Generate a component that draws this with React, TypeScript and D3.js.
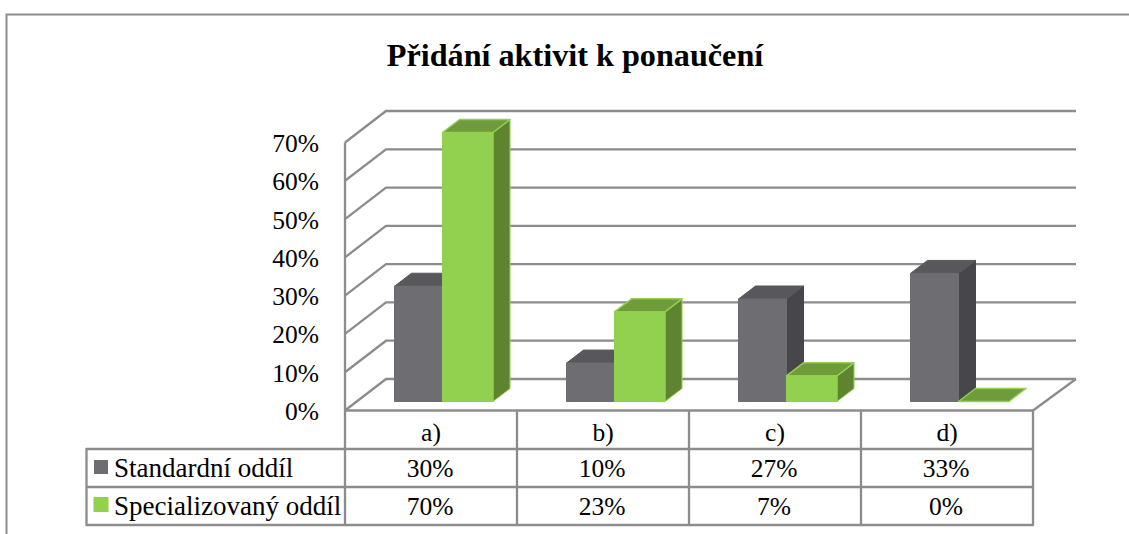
import React from "react";
import * as d3 from "d3";

const title = "Přidání aktivit k ponaučení";
const categories = ["a)", "b)", "c)", "d)"];
const seriesNames = ["Standardní oddíl", "Specializovaný oddíl"];
const standard = [30, 10, 26.67, 33.33];
const specialized = [70, 23.33, 6.67, 0];
const ticks = [0, 10, 20, 30, 40, 50, 60, 70];

const LINE = "#8c8c8c";
const GREY = { front: "#6e6d72", top: "#58575b", side: "#47464a", edge: "#6e6d72" };
const GREEN = { front: "#92d050", top: "#6f9b3c", side: "#5e8430", edge: "#92d050" };
const FONT = "'Liberation Serif', 'Times New Roman', serif";

const W = 1129;
const H = 534;
const DX = 41; // wall depth
const DY = 31.5;
const BDX = 17; // bar depth
const BDY = 13;

const yWall = d3.scaleLinear().domain([0, 70]).range([410.5, 142.5]);
const yBar = d3.scaleLinear().domain([0, 70]).range([401.5, 132.5]);
const xCat = d3.scaleBand<string>().domain(categories).range([345, 1033]);
const barW = 48;
const greenW = 50.5;
const pct = (v: number) => `${Math.round(v)}%`;

function Bar({ x, w, v, c }: { x: number; w: number; v: number; c: typeof GREY }) {
  const y0 = yBar(0);
  const y1 = yBar(v);
  return (
    <g stroke={c.edge} strokeWidth={1} strokeLinejoin="round">
      <path d={`M${x + w},${y1}L${x + w + BDX},${y1 - BDY}V${y0 - BDY}L${x + w},${y0}Z`} fill={c.side} stroke={v === 0 ? "none" : c === GREEN ? c.edge : c.side} />
      <path d={`M${x},${y1}L${x + BDX},${y1 - BDY}H${x + w + BDX}L${x + w},${y1}Z`} fill={c.top} stroke={c === GREEN ? c.edge : c.top} strokeWidth={c === GREEN ? 1.5 : 1} />
      <rect x={x} y={y1} width={w} height={y0 - y1} fill={c.front} />
    </g>
  );
}

export default function App() {
  const tableRows = [449, 487, 525];
  const seriesRows = [standard, specialized];
  const seriesColors = [GREY, GREEN];
  return (
    <svg
      width={W}
      height={H}
      viewBox={`0 0 ${W} ${H}`}
      style={{ position: "absolute", left: 0, top: 0, background: "#fff" }}
    >
      {/* outer frame */}
      <path d={`M6.5,${H}V14.5H${W}`} fill="none" stroke={LINE} strokeWidth={2} />
      <text x={575} y={66} textAnchor="middle" fontFamily={FONT} fontWeight="bold" fontSize={32.2} fill="#000">
        {title}
      </text>

      {/* walls and gridlines */}
      {ticks.map((t) => (
        <path
          key={t}
          d={`M${xCat.range()[0]},${yWall(t)}l${DX},${-DY}H${xCat.range()[1] + DX + 2}`}
          fill="none"
          stroke={LINE}
          strokeWidth={2.3}
        />
      ))}
      <line x1={345} x2={345} y1={yWall(70)} y2={525} stroke={LINE} strokeWidth={2.3} />
      <path d={`M1033,${yWall(0)}l43,${-DY}`} fill="none" stroke={LINE} strokeWidth={2.3} />

      {/* bars */}
      {categories.map((c, i) => {
        const x0 = xCat(c)! + 49.5;
        return (
          <g key={c}>
            <Bar x={x0} w={barW} v={standard[i]} c={GREY} />
            <Bar x={x0 + barW} w={greenW} v={specialized[i]} c={GREEN} />
          </g>
        );
      })}

      {/* y tick labels */}
      {ticks.map((t) => (
        <text key={t} x={319} y={yWall(t) + 9.5} textAnchor="end" fontFamily={FONT} fontSize={25.5} fill="#000">
          {t}%
        </text>
      ))}

      {/* data table */}
      <g stroke={LINE} strokeWidth={2.3} fill="none">
        <line x1={345} x2={1033} y1={yWall(0)} y2={yWall(0)} />
        {tableRows.map((y) => (
          <line key={y} x1={86} x2={1034} y1={y} y2={y} />
        ))}
        <line x1={86.5} x2={86.5} y1={448} y2={526} />
        {categories.map((c) => (
          <line key={c} x1={xCat(c)! + xCat.bandwidth()} x2={xCat(c)! + xCat.bandwidth()} y1={yWall(0)} y2={525} />
        ))}
      </g>
      {categories.map((c, i) => {
        const cx = xCat(c)! + xCat.bandwidth() / 2;
        return (
          <g key={c} fontFamily={FONT} fontSize={25.5} fill="#000" textAnchor="middle">
            <text x={cx} y={441}>{c}</text>
            {seriesRows.map((s, r) => (
              <text key={r} x={cx - 1} y={477 + r * 38}>{pct(s[i])}</text>
            ))}
          </g>
        );
      })}
      {seriesNames.map((n, r) => (
        <g key={n}>
          <rect x={94} y={460 + r * 37.5} width={14} height={14} fill={seriesColors[r].front} stroke={r === 1 ? GREEN.front : "none"} />
          <text x={114} y={477 + r * 38} fontFamily={FONT} fontSize={27} fill="#000">{n}</text>
        </g>
      ))}
    </svg>
  );
}
